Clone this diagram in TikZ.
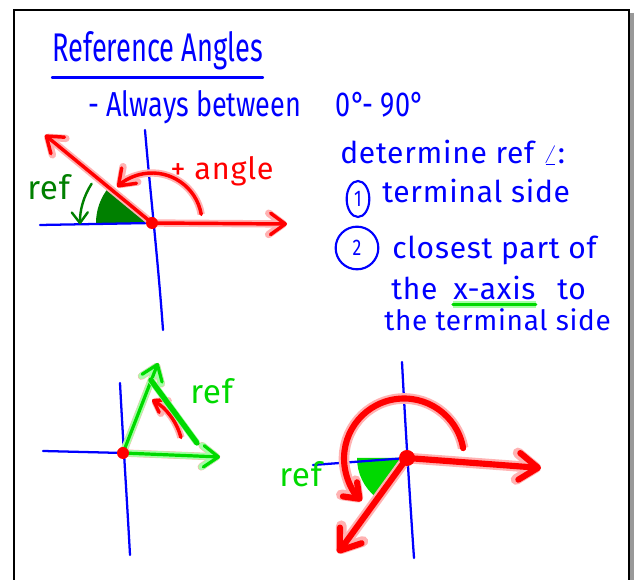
\documentclass[tikz,border=0pt]{standalone}
\usepackage{fontspec}
\setmainfont{Fira Sans}
\newfontfamily\hand[FakeStretch=0.78]{Fira Sans}
\newfontfamily\tall[FakeStretch=0.68]{Fira Sans}
\newfontfamily\wide[LetterSpace=2.5]{Fira Sans}
\usetikzlibrary{arrows.meta,shapes.geometric}

\begin{document}
\begin{tikzpicture}[x=0.75pt, y=0.75pt,
  bluepen/.style={draw=blue, line width=1.7pt, line cap=round},
  redpen/.style={draw=red, line width=2.6pt, line cap=round, line join=round,
    preaction={draw=red!30, line width=5.5pt}},
  fatred/.style={draw=red, line width=4.6pt, line cap=round, line join=round,
    preaction={draw=red!30, line width=8pt}},
  greenpen/.style={draw=green!85!black, line width=2.4pt, line cap=round, line join=round,
    preaction={draw=green!35, line width=5pt}},
  darkgreen/.style={draw=green!50!black, line width=1.8pt, line cap=round},
  handtip/.style={-{Straight Barb[length=11pt, width=16pt, round]}},
  bigtip/.style={-{Straight Barb[length=14pt, width=20pt, round]}},
  handtext/.style={anchor=base west, inner sep=0pt, text=blue, font=\hand\fontsize{26}{30}\selectfont},
  steptext/.style={anchor=base west, inner sep=0pt, text=blue, font=\wide\fontsize{22.5}{26}\selectfont,
    text height=15pt, text depth=0pt},
  reftext/.style={anchor=base west, inner sep=0pt, font=\wide\fontsize{25}{28}\selectfont},
  numring/.style={draw=blue, line width=1.6pt, inner sep=0pt, text=blue,
    font=\hand\fontsize{17}{20}\selectfont}
]
\useasboundingbox (0,0) rectangle (637,-580);
% board frame
\draw[black!40, line width=3pt] (632,-13) -- (632,-590);
\draw[line width=2pt] (14,-590) -- (14,-10) -- (629,-10) -- (629,-590);

% heading
\node[handtext, font=\tall\fontsize{30}{33}\selectfont] (title) at (52,-62) {Reference Angles};
\draw[bluepen] ([yshift=-5pt]title.south west) -- ([yshift=-5pt]title.south east);
\node[handtext] (range) at (88,-117) {- Always between\quad 0°- 90°};

% steps
\node[steptext] (howto) at (340,-164) {determine ref $\angle$:};
\node[numring, ellipse, minimum width=17pt, minimum height=27pt] (one) at (358,-199) {1};
\node[steptext] (step1) at (382,-203) {terminal side};
\node[numring, circle, minimum size=32pt] (two) at (357,-248) {2};
\node[steptext] (step2) at (392,-259) {closest part of};
\node[steptext] (the1) at (391,-300) {the};
\node[steptext] (xaxis) at (453,-300) {x-axis};
\node[steptext] (to) at (557,-300) {to};
\draw[greenpen] ([yshift=-3pt]xaxis.south west) -- ([yshift=-3pt]xaxis.south east);
\node[steptext, font=\wide\fontsize{21}{24}\selectfont] (step2b) at (384,-331) {the terminal side};

% first sketch: terminal side in quadrant II
\coordinate (o1) at (152,-223);
\coordinate (term1) at (45,-135);
\coordinate (xend1) at (287,-224);
\fill[green!50!black] (o1) -- ++(140:56) arc[start angle=140, end angle=180, radius=56] -- cycle;
\draw[bluepen] (40,-225) -- (o1) -- (280,-222);
\draw[bluepen] (145,-130) .. controls (150,-190) and (158,-260) .. (163,-330);
\draw[redpen, handtip] (o1) -- (term1);
\draw[redpen, handtip] (o1) -- (xend1);
\draw[redpen, handtip] ([shift={(10:50)}]o1) arc[start angle=10, end angle=134, radius=50];
\draw[darkgreen, -{Straight Barb[length=8pt, width=12pt, round]}] ([shift={(147:72)}]o1) arc[start angle=147, end angle=181, radius=72];
\fill[red] (o1) circle (6);
\node[reftext, text=red, font=\wide\fontsize{23}{26}\selectfont] (pos1) at (170,-180) {+ angle};
\node[reftext, text=green!50!black] (ref1) at (27,-200) {ref};

% second sketch: terminal side in quadrant I
\coordinate (o2) at (123,-453);
\coordinate (term2) at (158,-363);
\coordinate (xend2) at (220,-457);
\coordinate (side2) at (197,-443);
\draw[bluepen] (43,-451) -- (o2) -- (215,-457);
\draw[bluepen] (120,-383) .. controls (123,-440) and (127,-500) .. (130,-555);
\draw[redpen, handtip] (o2) -- (term2);
\draw[redpen, handtip] (o2) -- (xend2);
\draw[redpen, -{Straight Barb[length=8pt, width=11pt, round]}] ([shift={(15:60)}]o2) arc[start angle=15, end angle=60, radius=62];
\draw[greenpen, handtip] (o2) -- (term2);
\draw[greenpen, handtip] (o2) -- (xend2);
\draw[greenpen, line width=4pt] ([shift={(69:78)}]o2) -- (side2);
\fill[red] (o2) circle (6);
\node[reftext, text=green!85!black] (ref2) at (190,-404) {ref};

% third sketch: terminal side in quadrant III
\coordinate (o3) at (407,-458);
\coordinate (term3) at (338,-553);
\coordinate (xend3) at (541,-468);
\fill[green!85!black] (o3) -- ++(180:50) arc[start angle=180, end angle=232, radius=50] -- cycle;
\draw[bluepen] (313,-465) -- (o3) -- (538,-468);
\draw[bluepen] (402,-362) .. controls (405,-420) and (410,-500) .. (414,-558);
\draw[fatred, bigtip] (o3) -- (term3);
\draw[fatred, bigtip] (o3) -- (xend3);
\draw[fatred, -{Straight Barb[length=10pt, width=15pt, round]}] ([shift={(10:57)}]o3) arc[start angle=10, end angle=225, radius=60];
\fill[red] (o3) circle (8);
\node[reftext, text=green!85!black] (ref3) at (279,-487) {ref};
\end{tikzpicture}
\end{document}
